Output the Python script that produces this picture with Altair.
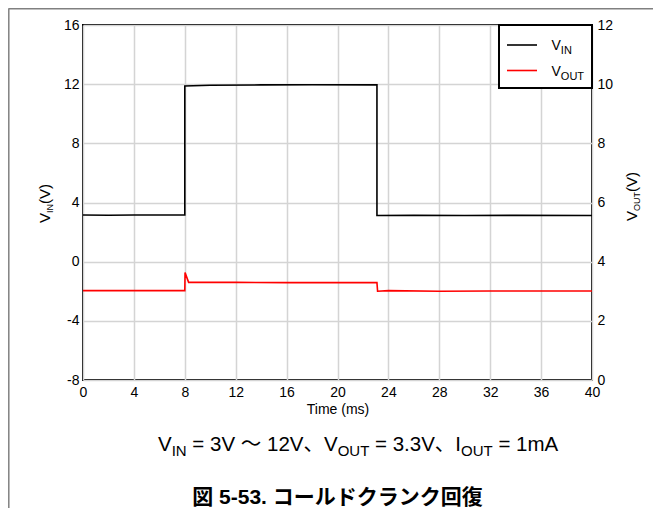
import altair as alt
import pandas as pd

# ---------------- data ----------------
vin_t = [0, 2, 4, 6, 8.0, 8.0, 10, 14, 18, 23.1, 23.1, 26, 30, 34, 40]
vin_v = [3.15, 3.14, 3.16, 3.15, 3.15, 11.88, 11.93, 11.95, 11.96, 11.95, 3.12, 3.13, 3.12, 3.13, 3.12]
vout_t = [0, 4, 8.0, 8.02, 8.3, 12, 16, 20, 23.1, 23.15, 24, 28, 32, 36, 40]
vout_v = [3.02, 3.02, 3.02, 3.63, 3.30, 3.30, 3.29, 3.29, 3.29, 3.00, 3.02, 3.00, 3.01, 3.01, 3.01]

x_ticks = list(range(0, 41, 4))
vin_ticks = list(range(-8, 17, 4))
vout_ticks = list(range(0, 13, 2))

PW, PH = 509, 355
FONT = "Liberation Sans, Arial, Noto Sans CJK JP"
HYPHEN = "replace(datum.label, '\u2212', '-')"

vin_df = pd.DataFrame({"t": vin_t, "v": vin_v, "i": range(len(vin_t))})
vout_df = pd.DataFrame({"t": vout_t, "v": vout_v, "i": range(len(vout_t))})
one = pd.DataFrame({"a": [0]})

xenc = alt.X("t:Q", scale=alt.Scale(domain=[0, 40], nice=False, zero=False),
             axis=alt.Axis(values=x_ticks, title="Time (ms)", grid=True, ticks=False,
                           domain=False, labelPadding=5, titlePadding=3, labelFlush=False))

vin_line = alt.Chart(vin_df).mark_line(color="black", strokeWidth=1.6).encode(
    x=xenc,
    y=alt.Y("v:Q", scale=alt.Scale(domain=[-8, 16], nice=False, zero=False),
            axis=alt.Axis(values=vin_ticks, title=None, grid=True, ticks=False,
                          domain=False, labelPadding=4, orient="left", labelExpr=HYPHEN)),
    order="i:O",
)
vout_line = alt.Chart(vout_df).mark_line(color="#ff0000", strokeWidth=1.6).encode(
    x=xenc,
    y=alt.Y("v:Q", scale=alt.Scale(domain=[0, 12], nice=False, zero=False),
            axis=alt.Axis(values=vout_ticks, title=None, grid=False, ticks=False,
                          domain=False, labelPadding=5, orient="right")),
    order="i:O",
)

# ---------------- annotation helpers ----------------
CW = {" ": .278, "=": .584, ".": .278, "(": .333, ")": .333, "V": .667, "I": .278,
      "N": .722, "O": .778, "U": .722, "T": .611, "m": .833, "A": .667,
      "～": 1.0, "、": 1.0}
for d in "0123456789":
    CW[d] = .556


def tw(s, size):
    return sum(CW.get(c, 0.6) for c in s) * size


def txt(s, x, y, size, angle=0, weight="normal", align="left", color="black"):
    kw = dict(text=s, fontSize=size, font=FONT, fontWeight=weight, align=align,
              baseline="alphabetic", color=color)
    if angle:
        kw["angle"] = angle
    return alt.Chart(one).mark_text(**kw).encode(x=alt.value(x), y=alt.value(y))


def chain(pieces, x0, y0, vertical=False):
    layers = []
    pos = 0.0
    for s, size, off in pieces:
        stripped = s.lstrip(" ")
        pos += tw(s[: len(s) - len(stripped)], size)
        if vertical:
            layers.append(txt(stripped, x0 + off, y0 - pos, size, angle=270))
        else:
            layers.append(txt(stripped, x0 + pos, y0 + off, size))
        pos += tw(stripped, size)
    return layers


ann = []
# axis titles with subscripts
ann += chain([("V", 15, 0), ("IN", 9, 3), ("(V)", 15, 0)], -33, 198, vertical=True)
ann += chain([("V", 15, 0), ("OUT", 9, 3), ("(V)", 15, 0)], 554, 196, vertical=True)

# condition line
M, S, D = 20.5, 15, 5
ann += chain([("V", M, 0), ("IN", S, D), (" = 3V ～ 12V、V", M, 0), ("OUT", S, D),
              (" = 3.3V、I", M, 0), ("OUT", S, D), (" = 1mA", M, 0)], 75, 426)

# caption
ann.append(txt("図 5-53. コールドクランク回復", PW / 2, 479, 21, weight="bold", align="center"))

# legend (manual, to keep subscripts)
leg_box = alt.Chart(one).mark_rect(fill="white", stroke="black", strokeWidth=2).encode(
    x=alt.value(416), x2=alt.value(PW), y=alt.value(0), y2=alt.value(63))
leg_k = alt.Chart(one).mark_rule(color="black", strokeWidth=1.6).encode(
    x=alt.value(424), x2=alt.value(454), y=alt.value(20))
leg_r = alt.Chart(one).mark_rule(color="#ff0000", strokeWidth=1.6).encode(
    x=alt.value(424), x2=alt.value(454), y=alt.value(45.5))
ann += [leg_box, leg_k, leg_r]
ann += chain([("V", 14, 0), ("IN", 11, 4)], 468.5, 24.5)
ann += chain([("V", 14, 0), ("OUT", 11, 4)], 468.5, 50.5)

# outer figure frame
frame_top = alt.Chart(one).mark_rule(color="#808080", strokeWidth=1.5).encode(
    x=alt.value(-74.5), x2=alt.value(570), y=alt.value(-16.2))
frame_left = alt.Chart(one).mark_rule(color="#808080", strokeWidth=1.5).encode(
    x=alt.value(-74.2), y=alt.value(-16.5), y2=alt.value(483))
ann += [frame_top, frame_left]

chart = alt.layer(vin_line, vout_line, *ann).resolve_scale(y="independent").properties(
    width=PW, height=PH,
    autosize=alt.AutoSizeParams(type="none"),
    padding={"left": 75, "top": 17, "right": 61, "bottom": 128},
).configure_view(stroke="black", strokeWidth=2).configure_axis(
    labelFont="Liberation Sans", labelFontSize=14, labelColor="black",
    titleFont="Liberation Sans", titleFontSize=14, titleFontWeight="normal", titleColor="black",
    gridColor="#d4d4d4", gridWidth=1.5,
)

chart.save("out.html", embed_options={"renderer": "svg", "actions": False})
